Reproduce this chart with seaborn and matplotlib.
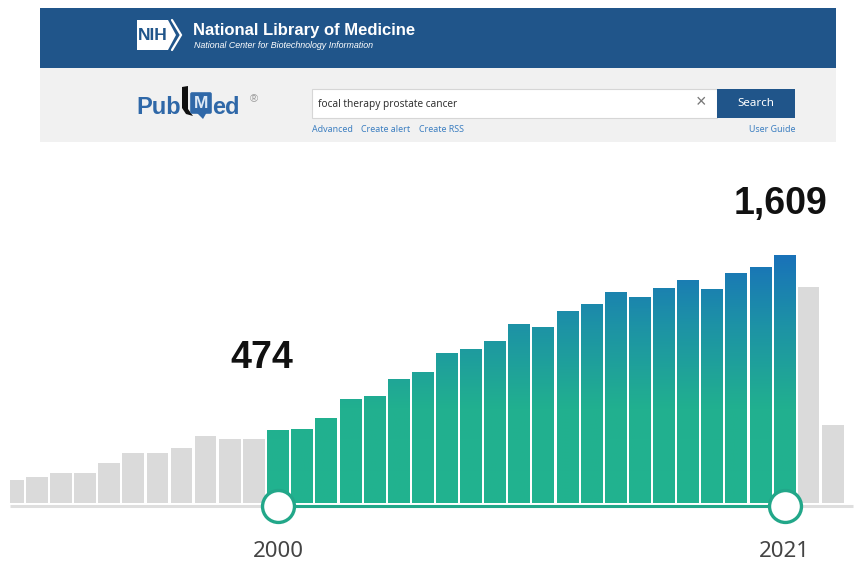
import numpy as np
import pandas as pd
import matplotlib
matplotlib.use("Agg")
import matplotlib.pyplot as plt
from matplotlib.colors import LinearSegmentedColormap, Normalize
from matplotlib.patches import Polygon, Rectangle, FancyBboxPatch
import seaborn as sns

# Yearly result counts for the query
years = list(range(1989, 2024))
counts = [150, 170, 195, 195, 260, 325, 325, 355, 435, 415, 415,
          474, 480, 550, 675, 695, 805, 850, 975, 1000, 1050, 1160,
          1140, 1245, 1290, 1370, 1335, 1395, 1445, 1390, 1495, 1530,
          1609, 1400, 505]
range_start, range_end = 2000, 2021
labelled_years = [2000, 2021]
query = "focal therapy prostate cancer"
header_title = "National Library of Medicine"
header_subtitle = "National Center for Biotechnology Information"
links_left = ["Advanced", "Create alert", "Create RSS"]
link_right = "User Guide"

W, H = 855, 563
sns.set_theme(style="white")
plt.rcParams["font.family"] = ["Liberation Sans", "DejaVu Sans"]

fig = plt.figure(figsize=(W / 100, H / 100), dpi=100)
fig.patch.set_facecolor("white")

# ---------- page header (pixel coordinates) ----------
hdr = fig.add_axes([0, 0, 1, 1], zorder=0)
hdr.set_xlim(0, W)
hdr.set_ylim(H, 0)
hdr.axis("off")

nih_blue = "#20558a"
hdr.add_patch(Rectangle((40, 8), 796, 60, color=nih_blue, lw=0))
hdr.add_patch(Rectangle((40, 68), 796, 74, color="#f1f1f1", lw=0))

# NIH badge
hdr.add_patch(Polygon([(137, 20), (168, 20), (176, 35), (168, 50), (137, 50)],
                      closed=True, fc="white", ec="none"))
hdr.plot([172, 181, 172], [20, 35, 50], color="white", lw=1.6, solid_joinstyle="miter")
hdr.text(153, 36, "NIH", color=nih_blue, fontsize=12.5, fontweight="bold",
         ha="center", va="center")
hdr.text(193, 31, header_title, color="white", fontsize=12, fontweight="bold",
         ha="left", va="center")
hdr.text(194, 46, header_subtitle, color="white", fontsize=6.4, style="italic",
         ha="left", va="center")

# PubMed logo
pm_blue = "#2f68a8"
hdr.text(136, 108, "Pub", color=pm_blue, fontsize=17, fontweight="bold",
         ha="left", va="center")
hdr.add_patch(Polygon([(182, 87), (188, 86), (188, 109), (193, 116), (186, 114), (182, 108)],
                      closed=True, fc="#111111", ec="none"))
hdr.add_patch(FancyBboxPatch((192, 94), 18, 18, boxstyle="round,pad=1.8",
                             fc=pm_blue, ec="none"))
hdr.add_patch(Polygon([(196, 112), (207, 112), (203, 119)], closed=True, fc=pm_blue, ec="none"))
hdr.text(201, 104, "M", color="#dce8f5", fontsize=12.5, fontweight="bold",
         ha="center", va="center")
hdr.text(212, 108, "ed", color=pm_blue, fontsize=17, fontweight="bold",
         ha="left", va="center")
hdr.text(250, 99, "®", color="#999999", fontsize=8, ha="left", va="center")

# search box and button
hdr.add_patch(Rectangle((312, 89), 405, 29, fc="white", ec="#d6d6d6", lw=0.8))
hdr.text(318, 104, query, color="#333333", fontsize=7.3, ha="left", va="center",
         family=["Noto Sans", "DejaVu Sans"])
hdr.text(701, 103, "×", color="#777777", fontsize=13, ha="center", va="center")
hdr.add_patch(Rectangle((717, 89), 78, 29, fc=nih_blue, ec="none"))
hdr.text(756, 104, "Search", color="white", fontsize=8.3, fontweight="bold",
         ha="center", va="center", family=["Noto Sans", "DejaVu Sans"])
link_col = "#3d7fc1"
for x0, txt in zip([312, 361, 419], links_left):
    hdr.text(x0, 129, txt, color=link_col, fontsize=6.4, ha="left", va="center",
             family=["Noto Sans", "DejaVu Sans"])
hdr.text(795, 129, link_right, color=link_col, fontsize=6.4, ha="right", va="center",
         family=["Noto Sans", "DejaVu Sans"])

# ---------- timeline bar chart ----------
base_px = 503          # pixel row of the value-0 baseline
px_per_unit = 248 / 1609
top_px, left_px = 150, 10
ax = fig.add_axes([left_px / W, 0, 1 - left_px / W, (H - top_px) / H], zorder=1)
ax.patch.set_alpha(0)

df = pd.DataFrame({"year": [str(y) for y in years], "count": counts})
sel = [range_start <= y <= range_end for y in years]
palette = {str(y): ("#22b18f" if s else "#dadada") for y, s in zip(years, sel)}
sns.barplot(data=df, x="year", y="count", hue="year", palette=palette,
            width=0.9, saturation=1, legend=False, ax=ax, linewidth=0)

# vertical gradient (green -> blue) on the selected range
grad_cmap = LinearSegmentedColormap.from_list(
    "pm", [(0.0, "#22b38f"), (0.38, "#21b08f"), (0.72, "#1d92a6"), (1.0, "#1972b9")])
norm = Normalize(0, max(counts[i] for i in range(len(years)) if sel[i]))
for patch, s in zip(ax.patches, sel):
    if not s:
        continue
    x0, w, h = patch.get_x(), patch.get_width(), patch.get_height()
    patch.set_facecolor("none")
    g = np.linspace(0, h, 256).reshape(-1, 1)
    im = ax.imshow(g, extent=[x0, x0 + w, 0, h], origin="lower", aspect="auto",
                   cmap=grad_cmap, norm=norm, zorder=patch.get_zorder(),
                   interpolation="bilinear")
    im.set_clip_path(patch)

# axes limits in pixel-consistent units
ymin = -(H - base_px) / px_per_unit
ymax = (base_px - top_px) / px_per_unit
pitch = (784.5 - 278) / (range_end - range_start)
first_center = 278 - (range_start - years[0]) * pitch
ax.set_xlim((left_px - first_center) / pitch, (W - first_center) / pitch)
ax.set_ylim(ymin, ymax)

# slider track and handles
i0, i1 = years.index(range_start), years.index(range_end)
track_y = -3 / px_per_unit
xl = ax.get_xlim()
ax.plot([xl[0], (853 - first_center) / pitch], [track_y, track_y],
        color="#dedede", lw=2.2, solid_capstyle="butt", zorder=3)
ax.plot([i0, i1], [track_y, track_y], color="#22a789", lw=2.2, zorder=4)
ax.plot([i0, i1], [track_y, track_y], "o", ms=23, mfc="white", mec="#22a789",
        mew=2.4, zorder=5)

for y in labelled_years:
    i = years.index(y)
    ax.text(i, -(557 - base_px) / px_per_unit, str(y), color="#444444",
            fontsize=16, ha="center", va="baseline",
            family=["Noto Sans", "DejaVu Sans"])

# bold value labels above the range ends
for y, (dx, dy) in zip(labelled_years, [(-16, 62), (-4, 41)]):
    i = years.index(y)
    v = counts[i]
    ax.annotate(f"{v:,}", xy=(i, v), xytext=(dx, dy), textcoords="offset pixels",
                ha="center", va="baseline", fontsize=27, fontweight="bold",
                color="#111111")

ax.axis("off")
fig.savefig("out.png", dpi=100)
